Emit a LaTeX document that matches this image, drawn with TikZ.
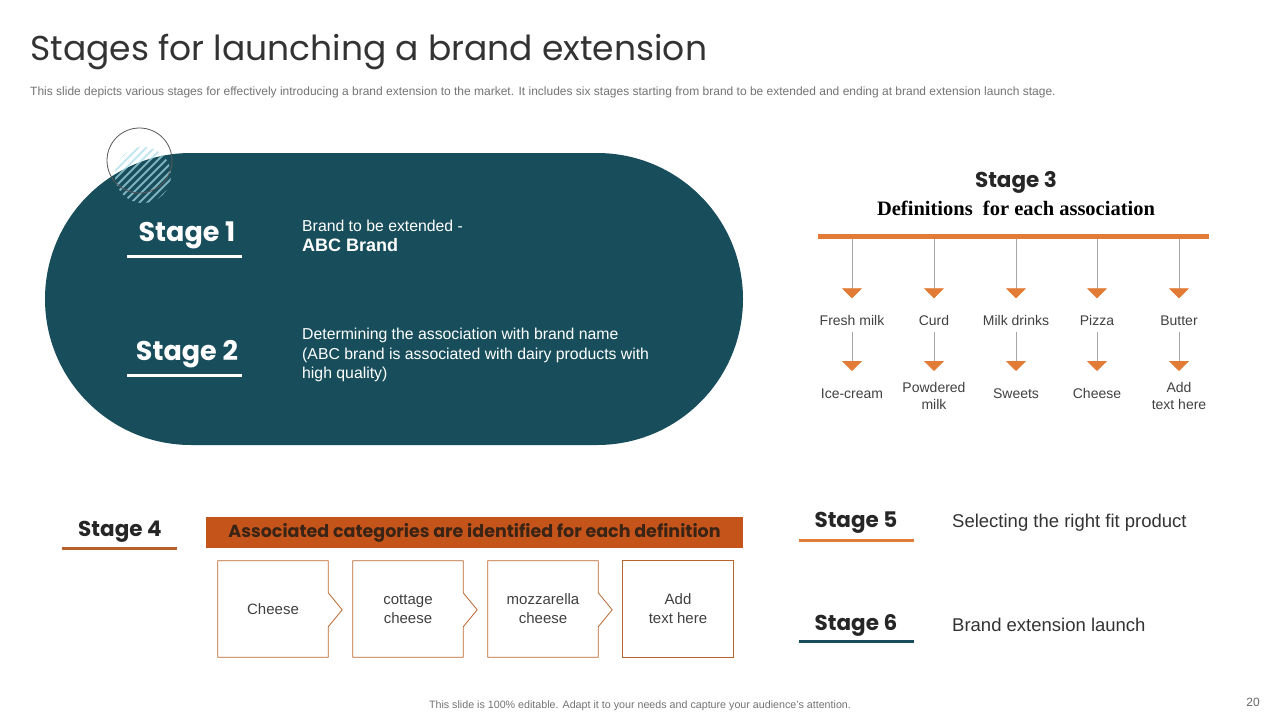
\documentclass[tikz,border=0pt]{standalone}
\usepackage{fontspec}
\setmainfont{Liberation Sans}
\newfontfamily\headfont{Poppins}
\newfontfamily\serifhead{Liberation Serif}
\usepackage{xcolor}
\usetikzlibrary{positioning, arrows.meta}
\definecolor{stageteal}{HTML}{184E5B}
\definecolor{stageorange}{HTML}{E27B36}
\definecolor{stagebrown}{HTML}{B9612C}
\definecolor{bannerorange}{HTML}{C5541B}
\definecolor{bannertext}{HTML}{3A2416}
\definecolor{boxline}{HTML}{B8652D}
\definecolor{hatchblue}{HTML}{A9DCEA}
\definecolor{bodygray}{HTML}{404040}

\tikzset{
  stagelabel/.style={font=\headfont\bfseries\fontsize{21.5}{26}\selectfont, text=black!85, inner sep=0pt},
  whitestage/.style={stagelabel, text=white, font=\headfont\bfseries\fontsize{27}{32}\selectfont},
  bodytext/.style={font=\fontsize{15.8}{19.5}\selectfont, align=left, anchor=west, inner sep=0pt},
  sidetext/.style={bodytext, font=\fontsize{18.5}{22}\selectfont, text=black!80},
  assoclabel/.style={font=\fontsize{14}{17}\selectfont, text=bodygray, align=center, inner sep=1pt},
  assocarrow/.style={draw=black!35, line width=0.8pt, -{Triangle[width=20pt, length=10pt, stageorange]}},
  catbox/.style={minimum width=110pt, minimum height=96pt, inner sep=0pt, align=center,
                 font=\fontsize{15}{19}\selectfont, text=bodygray},
  catline/.style={draw=boxline, line width=0.8pt},
  underline/.style={line width=3pt},
}

\begin{document}
\begin{tikzpicture}[x=1pt, y=-1pt]
  \useasboundingbox (0,0) rectangle (1280,720);

  % title and intro line
  \node[anchor=west, inner sep=0pt, font=\headfont\fontsize{34.5}{40}\selectfont, text=black!80] (title) at (30,52)
    {Stages for launching a brand extension};
  \node[anchor=west, inner sep=0pt, font=\fontsize{12}{14}\selectfont, text=black!55] (intro) at (30,92)
    {This slide depicts various stages for effectively introducing a brand extension to the market. It includes six stages starting from brand to be extended and ending at brand extension launch stage.};

  % stage 1 and 2 on the teal pill
  \node[fill=stageteal, rounded corners=146pt, minimum width=698pt, minimum height=292pt, inner sep=0pt] (pill) at (394,299) {};
  \begin{scope}
    \clip (143,175) circle[radius=28];
    \foreach \k in {-88,-80,...,88}
      \draw[hatchblue, opacity=0.7, line width=1.8pt] (143+\k-40,215) -- ++(80,-80);
  \end{scope}
  \draw[black!65, line width=0.8pt] (139.5,160.5) circle[radius=32.5];

  \node[whitestage] (s1) at (187,235) {Stage 1};
  \draw[underline, white] (127,256) -- (242,256);
  \node[bodytext, text=white] (s1txt) at (302,226) {Brand to be extended -};
  \node[bodytext, text=white, font=\bfseries\fontsize{18}{21}\selectfont] (s1brand) at (302,245) {ABC Brand};

  \node[whitestage] (s2) at (187,354) {Stage 2};
  \draw[underline, white] (127,375) -- (242,375);
  \node[bodytext, text=white] (s2txt) at (302,355)
    {Determining the association with brand name\\(ABC brand is associated with dairy  products with\\high quality)};

  % stage 3
  \node[stagelabel] (s3) at (1016,182) {Stage 3};
  \node[font=\serifhead\bfseries\fontsize{20.5}{24}\selectfont, inner sep=0pt] (s3def) at (1016,208) {Definitions\ \ for each association};
  \node[fill=stageorange, minimum width=391pt, minimum height=5pt, inner sep=0pt] (bar) at (1013.5,236) {};
  \foreach \x/\deftxt/\cattxt [count=\i] in {852/Fresh milk/Ice-cream, 934/Curd/Powdered\\milk,
      1016/Milk drinks/Sweets, 1097/Pizza/Cheese, 1179/Butter/Add\\text here} {
    \node[assoclabel] (def\i) at (\x,322) {\strut\deftxt};
    \node[assoclabel] (cat\i) at (\x,395) {\strut\cattxt};
    \coordinate (tip\i) at (\x,371);
    \draw[assocarrow, shorten >=14pt] (bar.south -| def\i) -- (def\i.north);
    \draw[assocarrow] (def\i.south) -- (tip\i);
  }

  % stage 4
  \node[stagelabel] (s4) at (120,532) {Stage 4};
  \draw[underline, stagebrown] (62,548) -- (177,548);
  \node[fill=bannerorange, minimum width=537pt, minimum height=31pt, inner sep=0pt,
        font=\headfont\bfseries\fontsize{17.5}{20}\selectfont, text=bannertext] (banner) at (474.5,532.5)
    {Associated categories are identified for each definition};
  \foreach \x/\txt [count=\i] in {273/Cheese, 408/cottage\\cheese, 543/mozzarella\\cheese, 678/Add\\text here}
    \node[catbox] (box\i) at (\x,609) {\txt};
  \foreach \i in {1,2,3}
    \draw[catline] (box\i.north west) -- (box\i.north east) -- ++(0,32) -- ++(14,17) -- ++(-14,17)
      -- (box\i.south east) -- (box\i.south west) -- cycle;
  \draw[catline] (box4.north west) rectangle (box4.south east);

  % stage 5 and 6
  \node[stagelabel] (s5) at (856,523) {Stage 5};
  \draw[underline, stageorange] (799,540) -- (914,540);
  \node[sidetext] (s5txt) at (952,523) {Selecting the right fit product};
  \node[stagelabel] (s6) at (856,625) {Stage 6};
  \draw[underline, stageteal] (799,641) -- (914,641);
  \node[sidetext] (s6txt) at (952,625) {Brand extension launch};

  % footer
  \node[font=\fontsize{10.7}{12}\selectfont, text=black!55] (foot) at (640,706)
    {This slide is 100\% editable. Adapt it to your needs and capture your audience's attention.};
  \node[font=\fontsize{12}{14}\selectfont, text=black!60] (page) at (1253,702) {20};
\end{tikzpicture}
\end{document}
